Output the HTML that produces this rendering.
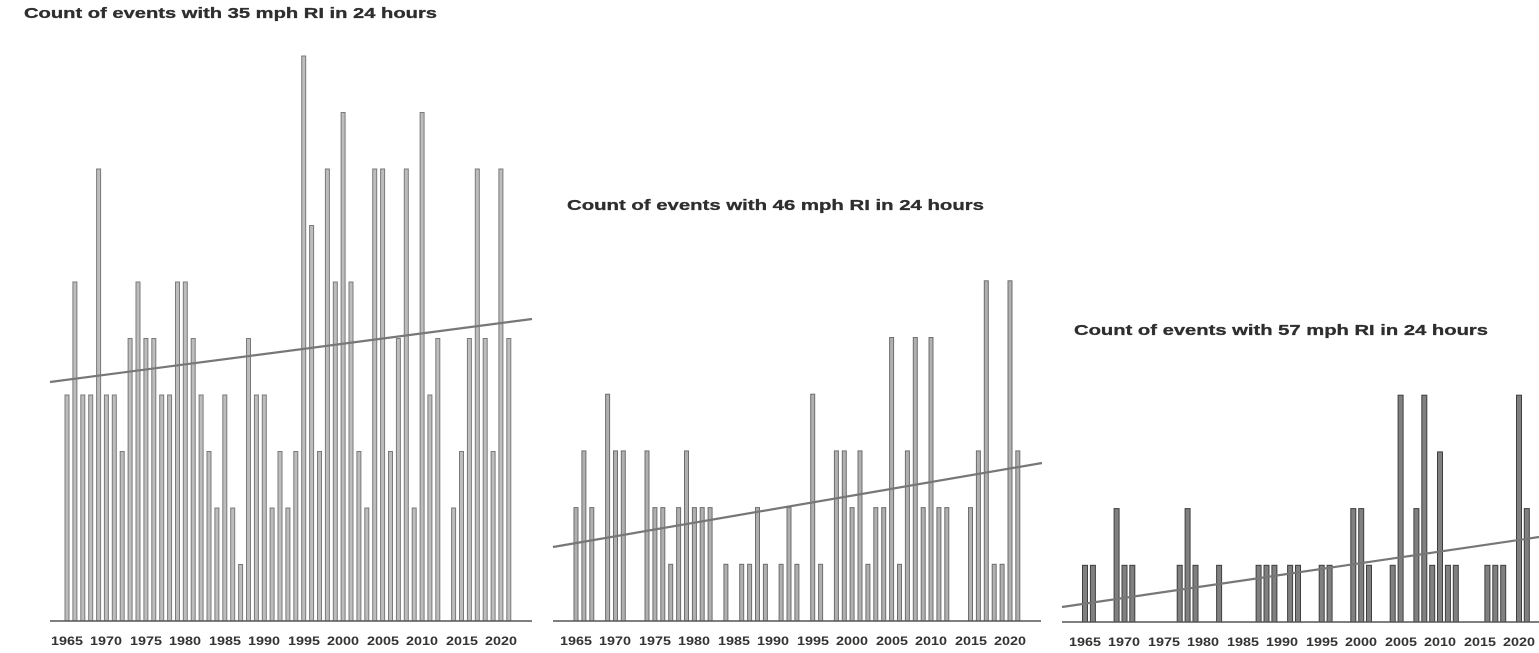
<!DOCTYPE html>
<html><head><meta charset="utf-8"><style>
html,body{margin:0;padding:0;background:#fff;}
svg{display:block;}
text{font-family:"Liberation Sans","DejaVu Sans",sans-serif;font-weight:bold;fill:#333;}
.t{font-size:15px;fill:#2e2e2e;stroke:#2e2e2e;stroke-width:0.3px;}
.k{font-size:12px;fill:#2a2a2a;}
</style></head><body>
<svg id="s" width="1539" height="653" viewBox="0 0 1539 653" xmlns="http://www.w3.org/2000/svg">
<text class="t" x="24" y="18" textLength="413" lengthAdjust="spacingAndGlyphs">Count of events with 35 mph RI in 24 hours</text>
<text class="t" x="567" y="210" textLength="417" lengthAdjust="spacingAndGlyphs">Count of events with 46 mph RI in 24 hours</text>
<text class="t" x="1074" y="335" textLength="414" lengthAdjust="spacingAndGlyphs">Count of events with 57 mph RI in 24 hours</text>
<g id="bars"></g>
<line x1="50" y1="621" x2="532" y2="621" stroke="#555" stroke-width="1.6"/>
<line x1="553" y1="621" x2="1041" y2="621" stroke="#555" stroke-width="1.6"/>
<line x1="1062" y1="622" x2="1539" y2="622" stroke="#555" stroke-width="1.6"/>
<line x1="50" y1="382" x2="532" y2="319" stroke="#777" stroke-width="2.2"/>
<line x1="553" y1="547" x2="1042" y2="463" stroke="#777" stroke-width="2.2"/>
<line x1="1062" y1="607" x2="1539" y2="537" stroke="#777" stroke-width="2.2"/>
<g class="k">
<text x="51" y="645" textLength="32" lengthAdjust="spacingAndGlyphs">1965</text>
<text x="90" y="645" textLength="32" lengthAdjust="spacingAndGlyphs">1970</text>
<text x="130" y="645" textLength="32" lengthAdjust="spacingAndGlyphs">1975</text>
<text x="169" y="645" textLength="32" lengthAdjust="spacingAndGlyphs">1980</text>
<text x="209" y="645" textLength="32" lengthAdjust="spacingAndGlyphs">1985</text>
<text x="248" y="645" textLength="32" lengthAdjust="spacingAndGlyphs">1990</text>
<text x="288" y="645" textLength="32" lengthAdjust="spacingAndGlyphs">1995</text>
<text x="327" y="645" textLength="32" lengthAdjust="spacingAndGlyphs">2000</text>
<text x="367" y="645" textLength="32" lengthAdjust="spacingAndGlyphs">2005</text>
<text x="406" y="645" textLength="32" lengthAdjust="spacingAndGlyphs">2010</text>
<text x="446" y="645" textLength="32" lengthAdjust="spacingAndGlyphs">2015</text>
<text x="485" y="645" textLength="32" lengthAdjust="spacingAndGlyphs">2020</text>

<text x="560" y="645" textLength="32" lengthAdjust="spacingAndGlyphs">1965</text>
<text x="599" y="645" textLength="32" lengthAdjust="spacingAndGlyphs">1970</text>
<text x="639" y="645" textLength="32" lengthAdjust="spacingAndGlyphs">1975</text>
<text x="678" y="645" textLength="32" lengthAdjust="spacingAndGlyphs">1980</text>
<text x="718" y="645" textLength="32" lengthAdjust="spacingAndGlyphs">1985</text>
<text x="757" y="645" textLength="32" lengthAdjust="spacingAndGlyphs">1990</text>
<text x="797" y="645" textLength="32" lengthAdjust="spacingAndGlyphs">1995</text>
<text x="836" y="645" textLength="32" lengthAdjust="spacingAndGlyphs">2000</text>
<text x="876" y="645" textLength="32" lengthAdjust="spacingAndGlyphs">2005</text>
<text x="915" y="645" textLength="32" lengthAdjust="spacingAndGlyphs">2010</text>
<text x="955" y="645" textLength="32" lengthAdjust="spacingAndGlyphs">2015</text>
<text x="994" y="645" textLength="32" lengthAdjust="spacingAndGlyphs">2020</text>

<text x="1069" y="646" textLength="32" lengthAdjust="spacingAndGlyphs">1965</text>
<text x="1108" y="646" textLength="32" lengthAdjust="spacingAndGlyphs">1970</text>
<text x="1148" y="646" textLength="32" lengthAdjust="spacingAndGlyphs">1975</text>
<text x="1187" y="646" textLength="32" lengthAdjust="spacingAndGlyphs">1980</text>
<text x="1227" y="646" textLength="32" lengthAdjust="spacingAndGlyphs">1985</text>
<text x="1266" y="646" textLength="32" lengthAdjust="spacingAndGlyphs">1990</text>
<text x="1306" y="646" textLength="32" lengthAdjust="spacingAndGlyphs">1995</text>
<text x="1345" y="646" textLength="32" lengthAdjust="spacingAndGlyphs">2000</text>
<text x="1385" y="646" textLength="32" lengthAdjust="spacingAndGlyphs">2005</text>
<text x="1424" y="646" textLength="32" lengthAdjust="spacingAndGlyphs">2010</text>
<text x="1464" y="646" textLength="32" lengthAdjust="spacingAndGlyphs">2015</text>
<text x="1503" y="646" textLength="32" lengthAdjust="spacingAndGlyphs">2020</text>
</g>
</svg>
<script>
(function(){
var g=document.getElementById('bars'),NS='http://www.w3.org/2000/svg';
var p1={x0:67,base:621,u:56.5,w:4,fill:'#bdbdbd',stroke:'#7a7a7a',
d:{1965:4,1966:6,1967:4,1968:4,1969:8,1970:4,1971:4,1972:3,1973:5,1974:6,1975:5,1976:5,1977:4,1978:4,1979:6,1980:6,1981:5,1982:4,1983:3,1984:2,1985:4,1986:2,1987:1,1988:5,1989:4,1990:4,1991:2,1992:3,1993:2,1994:3,1995:10,1996:7,1997:3,1998:8,1999:6,2000:9,2001:6,2002:3,2003:2,2004:8,2005:8,2006:3,2007:5,2008:8,2009:2,2010:9,2011:4,2012:5,2014:2,2015:3,2016:5,2017:8,2018:5,2019:3,2020:8,2021:5}};
var p2={x0:576,base:621,u:56.7,w:4,fill:'#b0b0b0',stroke:'#6e6e6e',
d:{1965:2,1966:3,1967:2,1969:4,1970:3,1971:3,1974:3,1975:2,1976:2,1977:1,1978:2,1979:3,1980:2,1981:2,1982:2,1984:1,1986:1,1987:1,1988:2,1989:1,1991:1,1992:2,1993:1,1995:4,1996:1,1998:3,1999:3,2000:2,2001:3,2002:1,2003:2,2004:2,2005:5,2006:1,2007:3,2008:5,2009:2,2010:5,2011:2,2012:2,2015:2,2016:3,2017:6,2018:1,2019:1,2020:6,2021:3}};
var p3={x0:1085,base:622,u:56.7,w:5,fill:'#808080',stroke:'#3f3f3f',
d:{1965:1,1966:1,1969:2,1970:1,1971:1,1977:1,1978:2,1979:1,1982:1,1987:1,1988:1,1989:1,1991:1,1992:1,1995:1,1996:1,1999:2,2000:2,2001:1,2004:1,2005:4,2007:2,2008:4,2009:1,2010:3,2011:1,2012:1,2016:1,2017:1,2018:1,2020:4,2021:2}};
[p1,p2,p3].forEach(function(p){
 for(var y in p.d){
  var v=p.d[y],x=p.x0+(y-1965)*7.89,h=v*p.u;
  var r=document.createElementNS(NS,'rect');
  r.setAttribute('x',(x-p.w/2).toFixed(1));r.setAttribute('y',(p.base-h).toFixed(1));
  r.setAttribute('width',p.w);r.setAttribute('height',h.toFixed(1));
  r.setAttribute('fill',p.fill);r.setAttribute('stroke',p.stroke);r.setAttribute('stroke-width','1');
  g.appendChild(r);
 }
});
})();
</script>
</body></html>
